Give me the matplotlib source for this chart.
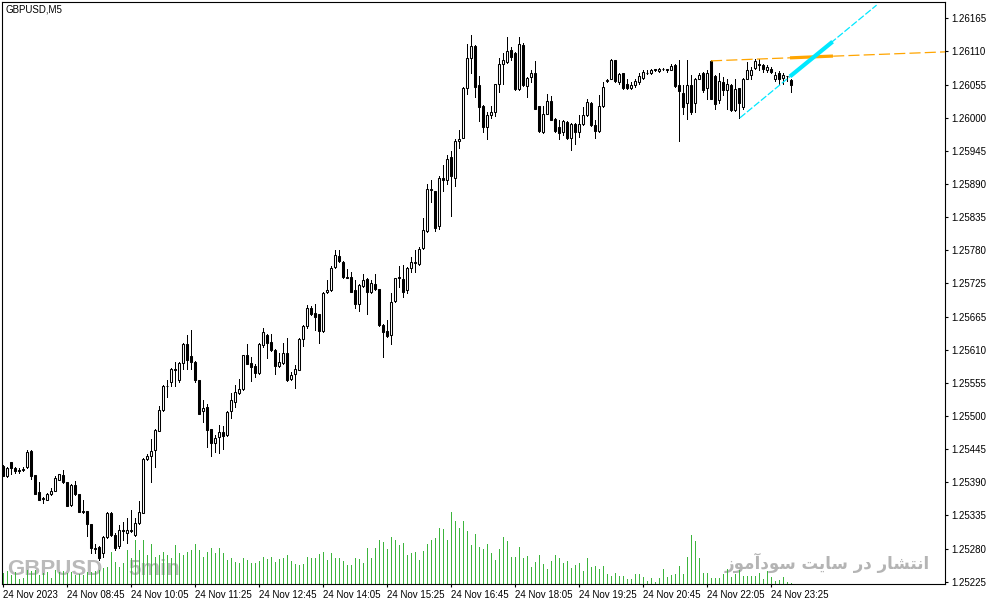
import matplotlib
matplotlib.use("Agg")
import matplotlib.pyplot as plt
import numpy as np

plt.rcParams['font.family'] = ['Liberation Sans', 'DejaVu Sans']
plt.rcParams['font.size'] = 7
plt.rcParams['lines.scale_dashes'] = False

# ---------------- data (GBPUSD, M5, 24 Nov 2023 07:25 .. 23:50) ----------------
open_ = [1.25418, 1.25401, 1.25424, 1.25415, 1.25412, 1.25411, 1.25416, 1.25443, 1.25403, 1.25375,
         1.25363, 1.25362, 1.25372, 1.25377, 1.25395, 1.25403, 1.25391, 1.25353, 1.25386, 1.25372,
         1.25343, 1.25343, 1.25321, 1.25280, 1.25283, 1.25273, 1.25299, 1.25339, 1.25303, 1.25284,
         1.25311, 1.25306, 1.25309, 1.25303, 1.25323, 1.25340, 1.25430, 1.25434, 1.25444, 1.25477,
         1.25511, 1.25551, 1.25558, 1.25580, 1.25561, 1.25590, 1.25622, 1.25601, 1.25592, 1.25561,
         1.25509, 1.25516, 1.25480, 1.25457, 1.25467, 1.25474, 1.25470, 1.25509, 1.25525, 1.25540,
         1.25546, 1.25603, 1.25590, 1.25585, 1.25573, 1.25620, 1.25637, 1.25625, 1.25612, 1.25585,
         1.25590, 1.25606, 1.25563, 1.25571, 1.25579, 1.25630, 1.25651, 1.25682, 1.25673, 1.25672,
         1.25643, 1.25708, 1.25712, 1.25750, 1.25769, 1.25759, 1.25734, 1.25733, 1.25712, 1.25688,
         1.25719, 1.25730, 1.25709, 1.25722, 1.25713, 1.25653, 1.25644, 1.25637, 1.25694, 1.25733,
         1.25730, 1.25712, 1.25748, 1.25757, 1.25755, 1.25781, 1.25810, 1.25879, 1.25877, 1.25818,
         1.25899, 1.25896, 1.25933, 1.25898, 1.25960, 1.25966, 1.26048, 1.26098, 1.26119, 1.26053,
         1.26018, 1.25983, 1.26004, 1.26008, 1.26055, 1.26089, 1.26092, 1.26112, 1.26107, 1.26047,
         1.26120, 1.26052, 1.26067, 1.26074, 1.26018, 1.25975, 1.26006, 1.26027, 1.25997, 1.25983,
         1.25975, 1.25992, 1.25966, 1.25989, 1.25975, 1.25988, 1.26003, 1.26024, 1.25987, 1.25977,
         1.26019, 1.26060, 1.26064, 1.26095, 1.26058, 1.26073, 1.26056, 1.26048, 1.26054, 1.26058,
         1.26066, 1.26074, 1.26073, 1.26081, 1.26077, 1.26080, 1.26080, 1.26079, 1.26087, 1.26054,
         1.26041, 1.26024, 1.26053, 1.26024, 1.26064, 1.26074, 1.26048, 1.26093, 1.26068, 1.26028,
         1.26059, 1.26046, 1.26053, 1.26012, 1.26048, 1.26017, 1.26064, 1.26071, 1.26082, 1.26088,
         1.26087, 1.26079, 1.26081, 1.26063, 1.26074, 1.26066, 1.26068, 1.26062]
high = [1.25420, 1.25417, 1.25425, 1.25417, 1.25414, 1.25417, 1.25445, 1.25444, 1.25403, 1.25392,
        1.25366, 1.25373, 1.25381, 1.25402, 1.25405, 1.25412, 1.25391, 1.25388, 1.25393, 1.25372,
        1.25361, 1.25343, 1.25321, 1.25288, 1.25285, 1.25301, 1.25341, 1.25341, 1.25306, 1.25320,
        1.25325, 1.25332, 1.25345, 1.25331, 1.25359, 1.25431, 1.25438, 1.25463, 1.25480, 1.25519,
        1.25553, 1.25561, 1.25581, 1.25591, 1.25591, 1.25624, 1.25637, 1.25645, 1.25594, 1.25562,
        1.25529, 1.25521, 1.25480, 1.25470, 1.25486, 1.25484, 1.25509, 1.25540, 1.25553, 1.25563,
        1.25603, 1.25621, 1.25600, 1.25588, 1.25623, 1.25648, 1.25639, 1.25639, 1.25613, 1.25606,
        1.25623, 1.25631, 1.25575, 1.25586, 1.25631, 1.25653, 1.25687, 1.25685, 1.25688, 1.25672,
        1.25709, 1.25729, 1.25752, 1.25778, 1.25779, 1.25760, 1.25746, 1.25742, 1.25728, 1.25721,
        1.25739, 1.25731, 1.25728, 1.25739, 1.25713, 1.25655, 1.25662, 1.25706, 1.25732, 1.25752,
        1.25754, 1.25750, 1.25767, 1.25778, 1.25784, 1.25831, 1.25889, 1.25896, 1.25877, 1.25902,
        1.25921, 1.25937, 1.25943, 1.25963, 1.25979, 1.26051, 1.26122, 1.26137, 1.26120, 1.26068,
        1.26020, 1.26009, 1.26018, 1.26056, 1.26099, 1.26107, 1.26134, 1.26117, 1.26109, 1.26133,
        1.26124, 1.26067, 1.26079, 1.26093, 1.26019, 1.26019, 1.26039, 1.26035, 1.25998, 1.25996,
        1.25996, 1.25994, 1.25990, 1.25990, 1.26003, 1.26017, 1.26031, 1.26025, 1.25995, 1.26037,
        1.26059, 1.26064, 1.26097, 1.26096, 1.26073, 1.26074, 1.26064, 1.26059, 1.26064, 1.26073,
        1.26078, 1.26079, 1.26081, 1.26081, 1.26082, 1.26082, 1.26081, 1.26088, 1.26088, 1.26095,
        1.26054, 1.26095, 1.26070, 1.26066, 1.26074, 1.26076, 1.26078, 1.26095, 1.26071, 1.26073,
        1.26067, 1.26064, 1.26056, 1.26064, 1.26049, 1.26066, 1.26092, 1.26084, 1.26097, 1.26097,
        1.26089, 1.26087, 1.26084, 1.26076, 1.26077, 1.26073, 1.26069, 1.26063]
low = [1.25401, 1.25400, 1.25405, 1.25407, 1.25407, 1.25409, 1.25415, 1.25396, 1.25371, 1.25361,
       1.25356, 1.25361, 1.25370, 1.25376, 1.25394, 1.25390, 1.25351, 1.25352, 1.25369, 1.25341,
       1.25340, 1.25302, 1.25273, 1.25273, 1.25262, 1.25266, 1.25298, 1.25301, 1.25278, 1.25282,
       1.25295, 1.25290, 1.25308, 1.25302, 1.25322, 1.25339, 1.25428, 1.25391, 1.25417, 1.25476,
       1.25510, 1.25533, 1.25551, 1.25551, 1.25559, 1.25580, 1.25580, 1.25580, 1.25559, 1.25504,
       1.25492, 1.25450, 1.25435, 1.25441, 1.25440, 1.25447, 1.25468, 1.25498, 1.25517, 1.25539,
       1.25545, 1.25588, 1.25560, 1.25566, 1.25571, 1.25617, 1.25599, 1.25610, 1.25571, 1.25584,
       1.25589, 1.25560, 1.25561, 1.25549, 1.25578, 1.25619, 1.25649, 1.25670, 1.25645, 1.25623,
       1.25642, 1.25706, 1.25710, 1.25749, 1.25759, 1.25731, 1.25731, 1.25708, 1.25681, 1.25677,
       1.25717, 1.25672, 1.25706, 1.25712, 1.25652, 1.25600, 1.25634, 1.25622, 1.25692, 1.25717,
       1.25700, 1.25706, 1.25742, 1.25742, 1.25753, 1.25780, 1.25809, 1.25859, 1.25810, 1.25813,
       1.25877, 1.25889, 1.25835, 1.25885, 1.25948, 1.25965, 1.26039, 1.26074, 1.26034, 1.25994,
       1.25975, 1.25963, 1.25998, 1.26002, 1.26042, 1.26056, 1.26091, 1.26095, 1.26045, 1.26046,
       1.26052, 1.26034, 1.26059, 1.26013, 1.25976, 1.25974, 1.26005, 1.25995, 1.25975, 1.25963,
       1.25970, 1.25964, 1.25946, 1.25956, 1.25967, 1.25987, 1.26002, 1.25985, 1.25965, 1.25975,
       1.26017, 1.26058, 1.26063, 1.26059, 1.26056, 1.26047, 1.26047, 1.26047, 1.26051, 1.26056,
       1.26064, 1.26072, 1.26072, 1.26077, 1.26076, 1.26078, 1.26076, 1.26078, 1.26051, 1.25960,
       1.26006, 1.25997, 1.26006, 1.26009, 1.26063, 1.26042, 1.26031, 1.26030, 1.26013, 1.26024,
       1.26037, 1.26013, 1.26010, 1.26010, 1.25998, 1.26014, 1.26063, 1.26064, 1.26080, 1.26078,
       1.26076, 1.26076, 1.26073, 1.26060, 1.26056, 1.26056, 1.26060, 1.26042]
close = [1.25402, 1.25415, 1.25414, 1.25410, 1.25409, 1.25413, 1.25442, 1.25402, 1.25372, 1.25362,
         1.25364, 1.25372, 1.25377, 1.25398, 1.25404, 1.25391, 1.25352, 1.25387, 1.25371, 1.25342,
         1.25342, 1.25321, 1.25281, 1.25282, 1.25264, 1.25299, 1.25339, 1.25303, 1.25281, 1.25312,
         1.25309, 1.25312, 1.25311, 1.25323, 1.25341, 1.25430, 1.25435, 1.25443, 1.25478, 1.25512,
         1.25552, 1.25552, 1.25580, 1.25578, 1.25590, 1.25621, 1.25595, 1.25591, 1.25561, 1.25505,
         1.25515, 1.25478, 1.25457, 1.25465, 1.25475, 1.25468, 1.25508, 1.25529, 1.25541, 1.25546,
         1.25603, 1.25589, 1.25584, 1.25574, 1.25621, 1.25641, 1.25623, 1.25612, 1.25585, 1.25591,
         1.25606, 1.25561, 1.25570, 1.25580, 1.25630, 1.25651, 1.25681, 1.25672, 1.25666, 1.25643,
         1.25707, 1.25712, 1.25749, 1.25770, 1.25760, 1.25733, 1.25732, 1.25709, 1.25688, 1.25720,
         1.25729, 1.25709, 1.25723, 1.25713, 1.25653, 1.25642, 1.25635, 1.25692, 1.25731, 1.25731,
         1.25709, 1.25748, 1.25758, 1.25758, 1.25780, 1.25812, 1.25880, 1.25880, 1.25815, 1.25899,
         1.25895, 1.25931, 1.25902, 1.25960, 1.25963, 1.26049, 1.26098, 1.26118, 1.26051, 1.26017,
         1.25984, 1.26004, 1.26008, 1.26055, 1.26089, 1.26095, 1.26110, 1.26101, 1.26047, 1.26122,
         1.26053, 1.26066, 1.26074, 1.26014, 1.25977, 1.26006, 1.26027, 1.25996, 1.25977, 1.25974,
         1.25994, 1.25966, 1.25989, 1.25975, 1.25989, 1.26004, 1.26025, 1.25987, 1.25977, 1.26019,
         1.26051, 1.26062, 1.26096, 1.26060, 1.26072, 1.26048, 1.26048, 1.26053, 1.26060, 1.26068,
         1.26076, 1.26073, 1.26078, 1.26079, 1.26081, 1.26081, 1.26079, 1.26085, 1.26052, 1.26044,
         1.26017, 1.26053, 1.26009, 1.26064, 1.26071, 1.26045, 1.26074, 1.26031, 1.26022, 1.26060,
         1.26046, 1.26056, 1.26012, 1.26047, 1.26023, 1.26064, 1.26078, 1.26079, 1.26093, 1.26087,
         1.26080, 1.26083, 1.26076, 1.26070, 1.26064, 1.26070, 1.26069, 1.26054]
volume = [32, 39, 27, 37, 15, 17, 42, 39, 42, 27, 32, 37, 19, 42, 37, 39, 32, 37, 27, 29,
          27, 37, 35, 39, 42, 47, 52, 97, 67, 52, 62, 102, 77, 132, 102, 132, 87, 119, 82, 87,
          97, 87, 77, 117, 92, 87, 97, 102, 119, 102, 82, 97, 109, 92, 107, 92, 72, 77, 65, 62,
          77, 72, 62, 62, 69, 82, 75, 82, 67, 75, 79, 87, 69, 59, 57, 59, 82, 79, 77, 89,
          97, 72, 92, 79, 77, 69, 57, 57, 79, 75, 62, 109, 79, 109, 132, 127, 105, 142, 132, 117,
          124, 87, 94, 97, 72, 100, 119, 132, 137, 169, 165, 132, 217, 189, 169, 190, 159, 117, 150, 110,
          105, 120, 92, 72, 105, 142, 130, 82, 82, 112, 77, 84, 52, 65, 87, 59, 45, 69, 87, 79,
          64, 69, 49, 57, 62, 39, 77, 52, 54, 45, 54, 30, 25, 34, 24, 25, 15, 15, 29, 29,
          22, 9, 19, 7, 19, 45, 22, 27, 30, 54, 30, 80, 147, 129, 77, 34, 34, 19, 19, 19,
          30, 45, 22, 29, 42, 25, 24, 25, 25, 32, 15, 39, 22, 9, 12, 22, 7, 4]

xtick_bars = [0, 16, 32, 48, 64, 80, 96, 112, 128, 144, 160, 176, 192]
xtick_labels = ["24 Nov 2023", "24 Nov 08:45", "24 Nov 10:05", "24 Nov 11:25", "24 Nov 12:45",
                "24 Nov 14:05", "24 Nov 15:25", "24 Nov 16:45", "24 Nov 18:05", "24 Nov 19:25",
                "24 Nov 20:45", "24 Nov 22:05", "24 Nov 23:25"]
ytick_labels = ["1.25225", "1.25280", "1.25335", "1.25390", "1.25445", "1.25500", "1.25555",
                "1.25610", "1.25665", "1.25725", "1.25780", "1.25835", "1.25890", "1.25945",
                "1.26000", "1.26055", "1.26110", "1.26165"]

# drawn trend objects (bar index, price)
orange_x = [177, 235.5]
orange_y = [1.26094, 1.26109]
orange_thick_x = [196.75, 207.5]
orange_thick_y = [1.26099, 1.26102]
cyan_x = [184.25, 218.4]
cyan_y = [1.25999, 1.26187]
cyan_thick_x = [196.75, 207.4]
cyan_thick_y = [1.26068, 1.26126]

# ---------------- figure ----------------
W, H = 991, 605
fig = plt.figure(figsize=(W / 100, H / 100), dpi=100)
rect = [2 / W, (H - 584) / H, 943 / W, 582 / H]

ax_v = fig.add_axes(rect, zorder=1)
ax = fig.add_axes(rect, zorder=2)
ax.patch.set_alpha(0)
ax_v.set_axis_off()

x = np.arange(len(close))
o = np.array(open_)
c = np.array(close)
hi = np.array(high)
lo = np.array(low)
vol = np.array(volume)

xlim = (-0.25, 235.5)
ax.set_xlim(*xlim)
ax_v.set_xlim(*xlim)
ax.set_ylim(1.252212, 1.261922)
ax_v.set_ylim(0, 582 * 3)

ax_v.vlines(x, 0, vol, color='#3cb43c', lw=0.7, antialiased=False)

# watermarks
wm_font = dict(fontsize=16, fontweight='bold', family=['Liberation Sans', 'DejaVu Sans'],
               color='#bababa', va='baseline', zorder=0.5)
fig.text(7 / W, (H - 575) / H, "GBPUSD", **wm_font)
fig.text(128 / W, (H - 575) / H, "5min", **wm_font)
shaped = ('\uFE8D\uFEE7\uFE98\uFEB8\uFE8E\uFEAD' + ' ' + '\uFEA9\uFEAD' + ' ' +
          '\uFEB3\uFE8E\uFEF3\uFE96' + ' ' + '\uFEB3\uFEEE\uFEA9\uFE81\uFEE3\uFEEE\uFEAF')
fig.text(930 / W, (H - 569) / H, shaped[::-1], fontsize=12, fontweight='bold',
         family=['DejaVu Sans'], color='#b4b4b4', ha='right', va='baseline', zorder=0.5)

# candles
up = c >= o
ax.vlines(x, lo, hi, color='black', lw=0.7, zorder=2, antialiased=False)
bb = np.minimum(o, c)
bh = np.abs(c - o)
ax.bar(x[up], bh[up], bottom=bb[up], width=0.5, facecolor='white', edgecolor='black',
       lw=0.75, zorder=3)
ax.bar(x[~up], bh[~up], bottom=bb[~up], width=0.5, facecolor='black', edgecolor='black',
       lw=0.75, zorder=3)

# trend lines
ax.plot(orange_x, orange_y, color='#ffa500', lw=0.9, dashes=(8, 3), zorder=4)
ax.plot(orange_thick_x, orange_thick_y, color='#ffa500', lw=2.3, zorder=5, solid_capstyle='butt')
ax.plot(cyan_x, cyan_y, color='#00e8ff', lw=0.9, dashes=(5, 1.5), zorder=6)
ax.plot(cyan_thick_x, cyan_thick_y, color='#00e8ff', lw=3.0, zorder=7, solid_capstyle='butt')

# axes styling
for s in ax.spines.values():
    s.set_linewidth(0.8)
    s.set_color('black')
ax.yaxis.tick_right()
ax.set_yticks(np.linspace(1.25225, 1.26165, len(ytick_labels)))
ax.set_yticklabels(ytick_labels)
ax.set_xticks(xtick_bars)
ax.set_xticklabels(xtick_labels)
for lbl in ax.get_xticklabels():
    lbl.set_ha('left')
ax.tick_params(axis='y', direction='out', length=2.5, width=0.8, pad=2, labelsize=7)
ax.tick_params(axis='x', direction='out', length=2.5, width=0.8, pad=1.5, labelsize=7)

fig.text(5 / W, (H - 10) / H, "GBPUSD,M5", fontsize=7, va='center', ha='left')

fig.savefig("out.png", dpi=100)
